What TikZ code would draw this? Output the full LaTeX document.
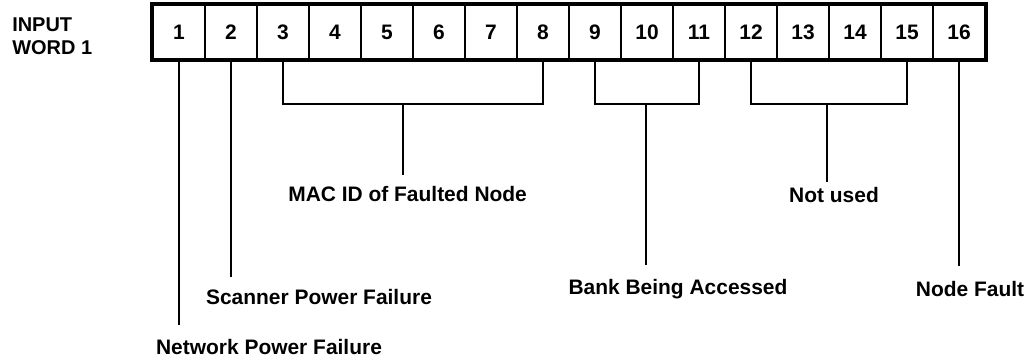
\documentclass[tikz,border=0pt]{standalone}
\usepackage{fontspec}
\setmainfont{Liberation Sans}
\usetikzlibrary{positioning, calc}

\begin{document}
\begin{tikzpicture}[
  bit/.style={draw, line width=1.4pt, rectangle, minimum width=1.3cm, minimum height=1.35cm, inner sep=0pt, font=\fontsize{14.9}{17}\selectfont\bfseries},
  lbl/.style={inner sep=0pt, anchor=base, font=\fontsize{14.9}{17}\selectfont\bfseries},
  wire/.style={line width=1.4pt, shorten >=#1},
  wire/.default=0.33cm
]
\useasboundingbox (0,0) rectangle (25.875,9);

\node[inner sep=0pt, anchor=north west, align=left, font=\fontsize{14.2}{16.4}\selectfont\bfseries] (word) at (0.3,8.575) {INPUT\\WORD 1};

% the sixteen bits of the word
\foreach \i in {1,...,16}
  \node[bit] (c\i) at ({3.825+1.3*(\i-0.5)},8.2) {\i};
\draw[line width=2.3pt] (c1.north west) rectangle (c16.south east);

\node[lbl] (net) at (6.725,0.15) {Network Power Failure};
\node[lbl] (scan) at (7.975,1.4) {Scanner Power Failure};
\node[lbl] (mac) at (10.19,3.975) {MAC ID of Faulted Node};
\node[lbl] (bank) at (16.95,1.65) {Bank Being Accessed};
\node[lbl] (nouse) at (20.85,3.95) {Not used};
\node[lbl] (fault) at (24.25,1.6) {Node Fault};

\coordinate (macmid) at (10.075,6.41);
\coordinate (bankmid) at (16.15,6.41);
\coordinate (nousemid) at (20.675,6.41);

\draw[wire=0.35cm] (c1.south) -- (c1.south |- net.north);
\draw[wire=0.3cm] (c2.south) -- (c2.south |- scan.north);
\draw[wire=0pt] (c3.south) |- (macmid) -| (c8.south);
\draw[wire=0.27cm] (macmid) -- (macmid |- mac.north);
\draw[wire=0pt] (c9.south) |- (bankmid) -| (c11.south);
\draw[wire=0.35cm] (bankmid) -- (bankmid |- bank.north);
\draw[wire=0pt] (c12.south) |- (nousemid) -| (c15.south);
\draw[wire=0.12cm] (nousemid) -- (nousemid |- nouse.north);
\draw[wire=0.37cm] (c16.south) -- (c16.south |- fault.north);
\end{tikzpicture}
\end{document}
